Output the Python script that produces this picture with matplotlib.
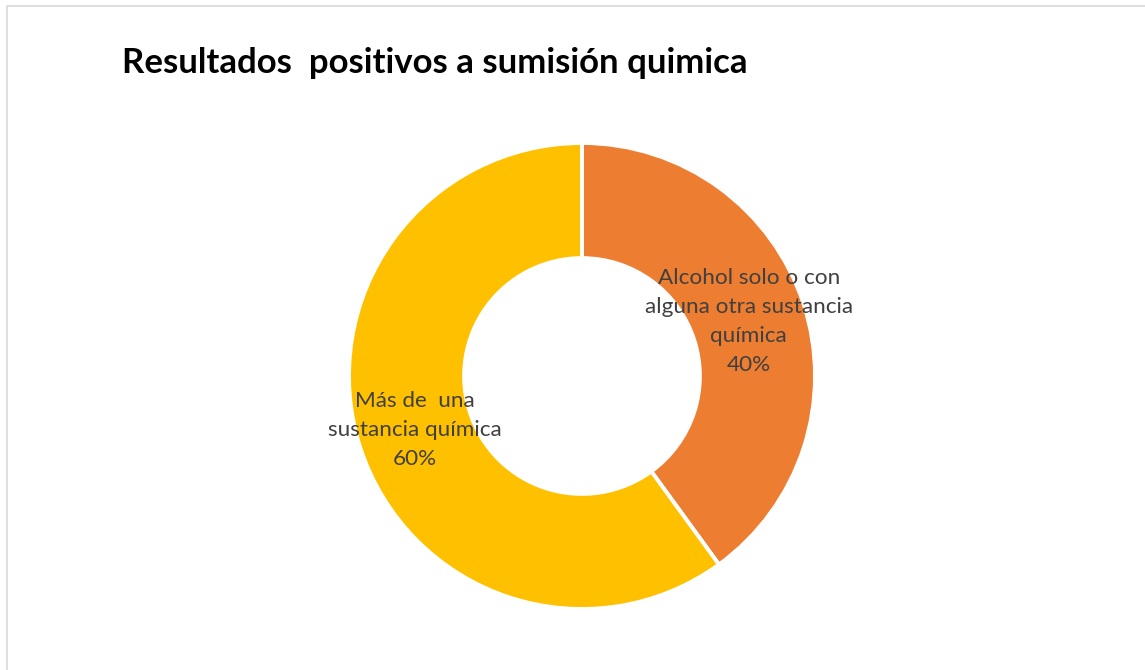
import matplotlib
matplotlib.use("Agg")
import matplotlib.pyplot as plt
from matplotlib.patches import Rectangle
import numpy as np

# Chart data
title = "Resultados  positivos a sumisión quimica"
categories = ["Alcohol solo o con\nalguna otra sustancia\nquímica", "Más de  una\nsustancia química"]
values = [40, 60]
colors = ["#ED7D31", "#FFC000"]

W, H = 1145, 670
DPI = 100
fig = plt.figure(figsize=(W / DPI, H / DPI), dpi=DPI)
fig.patch.set_facecolor("white")

# Thin light-grey chart border (top and left edges visible)
fig.add_artist(Rectangle((6.5 / W, -0.1), 1.2, (H - 5.5) / H + 0.1,
                         transform=fig.transFigure, fill=False,
                         edgecolor="#d9d9d9", linewidth=1.2))

# Donut placement
cx, cy, r = 582, 376, 233
ax = fig.add_axes([(cx - r) / W, (H - cy - r) / H, 2 * r / W, 2 * r / H])

hole = 0.506
wedges, _ = ax.pie(values, colors=colors, startangle=90, counterclock=False,
                   radius=1.0, wedgeprops=dict(width=1 - hole, edgecolor="white", linewidth=2.8))
ax.set_xlim(-1, 1)
ax.set_ylim(-1, 1)
ax.set_aspect("equal")
ax.axis("off")

total = sum(values)
mid_r = (1 + hole) / 2
for w, cat, v in zip(wedges, categories, values):
    ang = np.deg2rad((w.theta1 + w.theta2) / 2)
    x, y = mid_r * np.cos(ang), mid_r * np.sin(ang)
    ax.text(x, y, f"{cat}\n{round(100 * v / total)}%", ha="center", va="center",
            fontsize=16.2, color="#404040", family="Lato", linespacing=1.56)

fig.text(122 / W, 1 - 63 / H, title, ha="left", va="center", fontsize=25,
         fontweight="bold", family="Lato", color="black")

fig.savefig("out.png", dpi=DPI)
